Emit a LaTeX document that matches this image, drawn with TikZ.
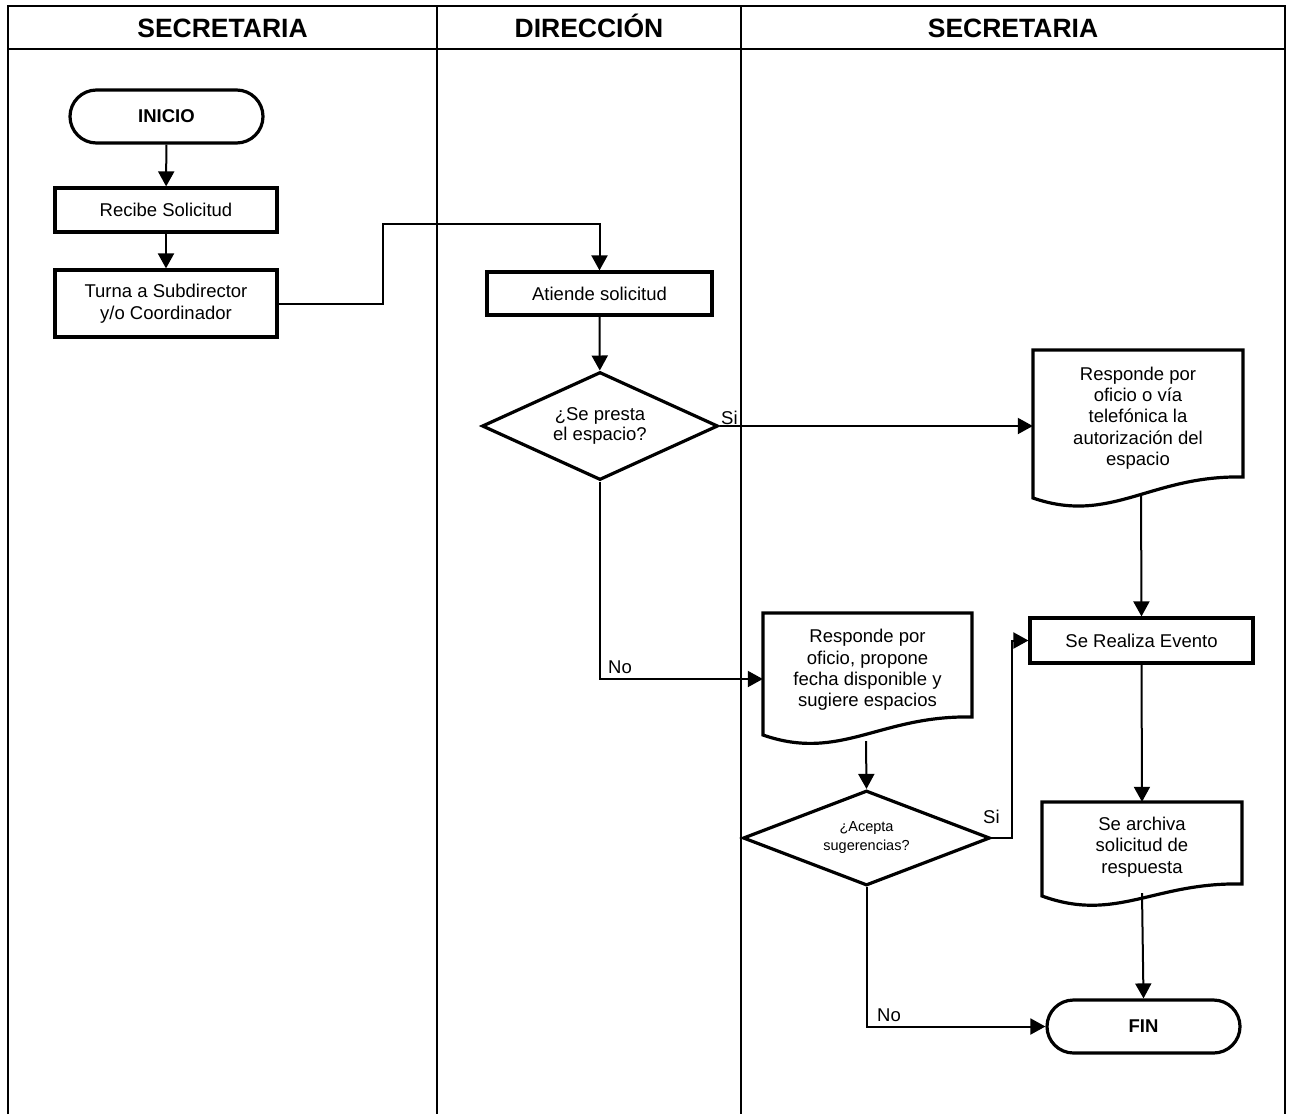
\documentclass[tikz,border=0pt]{standalone}
\usepackage{fontspec}
\setmainfont{Liberation Sans}
\usetikzlibrary{shapes.geometric,shapes.misc,arrows.meta,calc}
\newcommand{\docpath}[5]{\draw[shp] (#1,#4) -- (#1,#3) -- (#2,#3) -- (#2,#5) .. controls ({#2-0.44*(#2-#1)},{#5-2}) and ({#1+0.37*(#2-#1)},{#4+27}) .. (#1,#4) -- cycle;}
\begin{document}
\begin{tikzpicture}[x=1pt,y=-1pt,
 frame/.style={line width=2.4pt},
 shp/.style={draw, line width=3.2pt},
 box/.style={shp, rectangle, inner sep=2pt, align=center, font=\fontsize{18.5}{21.5}\selectfont},
 term/.style={box, rounded rectangle, font=\bfseries\fontsize{18.5}{21.5}\selectfont},
 dec/.style={shp, diamond, aspect=2.4, inner sep=0pt, align=center, font=\fontsize{18.5}{20.5}\selectfont},
 doctext/.style={rectangle, inner sep=0pt, align=center, font=\fontsize{18.5}{21.3}\selectfont},
 conn/.style={line width=2pt, -{Triangle[length=15pt,width=16pt]}},
 lbl/.style={anchor=base west, inner sep=0pt, font=\fontsize{18.5}{21.5}\selectfont},
 head/.style={anchor=base, inner sep=0pt, font=\bfseries\fontsize{26.5}{30}\selectfont}]
\useasboundingbox (0,0) rectangle (1289,1114);
% frame
\draw[frame] (8,1114) -- (8,6) -- (1285,6) -- (1285,1114);
\draw[frame] (8,49) -- (1285,49);
\draw[frame] (437,6) -- (437,1114);
\draw[frame] (741,6) -- (741,1114);
\node[head] (h1) at (222.5,37) {SECRETARIA};
\node[head] (h2) at (589,37) {DIRECCIÓN};
\node[head] (h3) at (1013,37) {SECRETARIA};
% document outlines
\docpath{1033}{1243}{350}{498}{477}
\docpath{763}{972}{613}{735}{717}
\docpath{1042}{1242}{802}{896}{884}
% nodes
\node[term, minimum width=197pt, minimum height=53pt] (inicio) at (166.5,116.5) {INICIO};
\node[box, minimum width=222pt, minimum height=44pt] (recibe) at (166,210) {Recibe Solicitud};
\node[box, minimum width=222pt, minimum height=67pt, font=\fontsize{18.5}{22.5}\selectfont] (turna) at (166,303.5) {Turna a Subdirector\\y/o Coordinador};
\node[box, minimum width=225pt, minimum height=43pt] (atiende) at (599.5,293.5) {Atiende solicitud};
\node[dec, minimum width=236pt, minimum height=108pt] (dia1) at (600,426) {¿Se presta\\el espacio?};
\node[doctext, minimum width=210pt, minimum height=127pt] (doc1) at (1138,418) {Responde por\\oficio o vía\\telefónica la\\autorización del\\espacio};
\node[box, minimum width=223pt, minimum height=45pt] (realiza) at (1141.5,640.5) {Se Realiza Evento};
\node[doctext, minimum width=209pt, minimum height=104pt] (doc2) at (867.5,670) {Responde por\\oficio, propone\\fecha disponible y\\sugiere espacios};
\node[dec, minimum width=247pt, minimum height=95pt, font=\fontsize{14.5}{19}\selectfont] (dia2) at (866.5,838) {¿Acepta\\sugerencias?};
\node[doctext, minimum width=200pt, minimum height=90pt] (doc3) at (1142,847) {Se archiva\\solicitud de\\respuesta};
\node[term, minimum width=197pt, minimum height=53pt] (fin) at (1143.5,1026.5) {FIN};
\coordinate (doc1b) at (1141,493);
\coordinate (doc2b) at (866,741);
\coordinate (doc3b) at (1142,893);
\coordinate (bend1) at (383,224);
% connectors
\draw[conn] (inicio) -- (recibe);
\draw[conn] (recibe) -- (turna);
\draw[conn] (turna.east) -| (bend1) -| (atiende.north);
\draw[conn] (atiende) -- (dia1);
\draw[conn] (dia1.east) -- (dia1.east -| doc1.west);
\draw[conn] (dia1.south) |- ([yshift=-9pt]doc2.west);
\draw[conn] (doc2b) -- (dia2.north);
\draw[conn] (dia2.east) -- ++(20,0) |- (realiza.west);
\draw[conn] (dia2.south) |- (fin.west);
\draw[conn] (doc1b) -- (realiza.north);
\draw[conn] (realiza.south) -- (doc3.north);
\draw[conn] (doc3b) -- (fin.north);
% labels
\node[lbl] (si1) at (721,424) {Si};
\node[lbl] (no1) at (608,673) {No};
\node[lbl] (si2) at (983,823) {Si};
\node[lbl] (no2) at (877,1021) {No};
\end{tikzpicture}
\end{document}
